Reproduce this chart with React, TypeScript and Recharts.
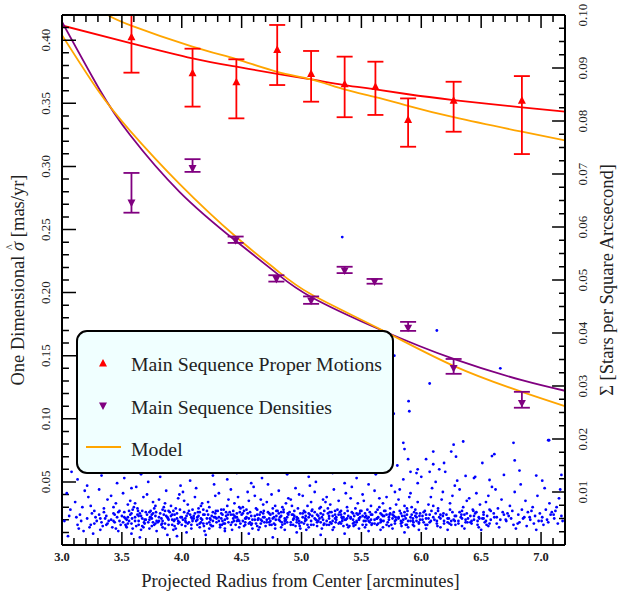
import React from "react";
import { ComposedChart, XAxis, YAxis, Line, Scatter, ErrorBar, Legend } from "recharts";

const SERIF = "'Liberation Serif', 'Times New Roman', serif";
const INK = "#222";

// axis ticks
const xTicks = [3.0, 3.1, 3.2, 3.3, 3.4, 3.5, 3.6, 3.7, 3.8, 3.9, 4.0, 4.1, 4.2, 4.3, 4.4, 4.5, 4.6, 4.7, 4.8, 4.9, 5.0, 5.1, 5.2, 5.3, 5.4, 5.5, 5.6, 5.7, 5.8, 5.9, 6.0, 6.1, 6.2, 6.3, 6.4, 6.5, 6.6, 6.7, 6.8, 6.9, 7.0, 7.1, 7.2];
const xLabels = [3.0, 3.5, 4.0, 4.5, 5.0, 5.5, 6.0, 6.5, 7.0];
const sigmaTicks = [0, 0.01, 0.02, 0.03, 0.04, 0.05, 0.06, 0.07, 0.08, 0.09, 0.1, 0.11, 0.12, 0.13, 0.14, 0.15, 0.16, 0.17, 0.18, 0.19, 0.2, 0.21, 0.22, 0.23, 0.24, 0.25, 0.26, 0.27, 0.28, 0.29, 0.3, 0.31, 0.32, 0.33, 0.34, 0.35, 0.36, 0.37, 0.38, 0.39, 0.4, 0.41, 0.42];
const sigmaLabels = [0.05, 0.1, 0.15, 0.2, 0.25, 0.3, 0.35, 0.4];
const densTicks = [0, 0.0025, 0.005, 0.0075, 0.01, 0.0125, 0.015, 0.0175, 0.02, 0.0225, 0.025, 0.0275, 0.03, 0.0325, 0.035, 0.0375, 0.04, 0.0425, 0.045, 0.0475, 0.05, 0.0525, 0.055, 0.0575, 0.06, 0.0625, 0.065, 0.0675, 0.07, 0.0725, 0.075, 0.0775, 0.08, 0.0825, 0.085, 0.0875, 0.09, 0.0925, 0.095, 0.0975, 0.1];
const densLabels = [0.01, 0.02, 0.03, 0.04, 0.05, 0.06, 0.07, 0.08, 0.09, 0.1];

// main sequence proper motion dispersion (mas/yr), errors [down, up]
const pmRadius = [3.58, 4.09, 4.456, 4.797, 5.08, 5.36, 5.617, 5.89, 6.27, 6.84];
const pmSigma = [0.4028, 0.3743, 0.3671, 0.3928, 0.3738, 0.3656, 0.3635, 0.3373, 0.3526, 0.3526];
const pmErrLow = [0.0285, 0.0269, 0.029, 0.0283, 0.0225, 0.0266, 0.0227, 0.0217, 0.0251, 0.0428];
const pmErrHigh = [0.0172, 0.019, 0.0178, 0.0193, 0.0177, 0.0214, 0.0195, 0.0166, 0.0145, 0.019];

// main sequence densities (stars / arcsec^2), errors [down, up]
const densRadius = [3.58, 4.09, 4.45, 4.79, 5.08, 5.36, 5.61, 5.89, 6.27, 6.84];
const densValue = [0.0645, 0.071, 0.0574, 0.0501, 0.046, 0.0517, 0.0496, 0.0409, 0.0333, 0.0267];
const densErrLow = [0.0018, 0.0006, 0.0004, 0.0004, 0.0005, 0.0004, 0.0003, 0.0005, 0.001, 0.0008];
const densErrHigh = [0.0057, 0.0018, 0.0008, 0.0008, 0.0009, 0.0008, 0.0006, 0.0012, 0.0018, 0.0022];

// fitted curves
const pmFitR = [3.0, 3.58, 4.09, 4.456, 4.797, 5.081, 5.358, 5.617, 5.89, 6.27, 6.84, 7.2];
const pmFitV = [0.4117, 0.3976, 0.3857, 0.379, 0.3733, 0.3689, 0.3645, 0.3611, 0.3572, 0.3526, 0.3468, 0.3434];
const pmModelR = [3.383, 3.567, 4.089, 4.456, 4.797, 5.081, 5.358, 5.617, 5.89, 6.27, 6.84, 7.2];
const pmModelV = [0.42, 0.412, 0.395, 0.385, 0.375, 0.369, 0.361, 0.355, 0.348, 0.339, 0.3275, 0.3206];
const densFitR = [3.0, 3.317, 3.567, 3.983, 4.45, 4.79, 5.08, 5.65, 6.27, 6.84, 7.2];
const densFitV = [0.0987, 0.0858, 0.0774, 0.0666, 0.0574, 0.0513, 0.0468, 0.0407, 0.0351, 0.0311, 0.0291];
const densModelR = [3.0, 3.3, 3.567, 3.983, 4.45, 4.79, 5.08, 5.65, 6.27, 6.84, 7.2];
const densModelV = [0.0962, 0.0858, 0.0782, 0.0681, 0.0582, 0.0519, 0.0473, 0.0408, 0.0338, 0.0289, 0.0262];

// individual stars [radius, sigma]
const stars: [number, number][] = [
  [3.02,.019],[3.05,.007],[3.07,.028],[3.04,.041],[3.08,.058],[3.06,.023],
  [3.11,.034],[3.13,.016],[3.15,.024],[3.12,.022],[3.17,.030],[3.14,.013],[3.19,.043],[3.16,.019],[3.18,.011],[3.13,.052],
  [3.21,.021],[3.23,.014],[3.22,.038],[3.25,.025],[3.27,.017],[3.24,.031],[3.28,.022],[3.26,.009],[3.29,.019],[3.21,.047],[3.27,.027],[3.24,.016],
  [3.31,.024],[3.33,.018],[3.35,.029],[3.32,.012],[3.36,.021],[3.38,.036],[3.34,.015],[3.37,.023],[3.39,.019],[3.31,.044],[3.35,.026],[3.38,.017],[3.33,.055],
  [3.41,.020],[3.43,.025],[3.42,.014],[3.45,.033],[3.44,.018],[3.46,.022],[3.48,.027],[3.47,.011],[3.49,.016],[3.41,.039],[3.44,.024],[3.46,.049],[3.48,.019],[3.43,.030],[3.45,.013],
  [3.51,.018],[3.52,.026],[3.53,.021],[3.54,.014],[3.55,.032],[3.56,.019],[3.57,.024],[3.58,.009],[3.59,.028],[3.51,.041],[3.53,.016],[3.55,.022],[3.57,.035],[3.59,.013],[3.52,.053],[3.54,.020],[3.56,.027],[3.58,.017],[3.50,.023],[3.58,.045],
  [3.61,.022],[3.62,.015],[3.63,.029],[3.64,.019],[3.65,.025],[3.66,.012],[3.67,.021],[3.68,.038],[3.69,.017],[3.61,.033],[3.63,.024],[3.65,.006],[3.67,.027],[3.69,.020],[3.62,.046],[3.64,.016],[3.66,.023],[3.68,.014],[3.60,.030],[3.66,.056],
  [3.71,.024],[3.72,.018],[3.73,.013],[3.74,.027],[3.75,.021],[3.76,.034],[3.77,.016],[3.78,.023],[3.79,.019],[3.71,.040],[3.73,.026],[3.75,.015],[3.77,.029],[3.79,.011],[3.72,.050],[3.74,.022],[3.76,.018],[3.78,.031],[3.70,.020],[3.76,.025],
  [3.81,.019],[3.82,.025],[3.83,.021],[3.84,.014],[3.85,.030],[3.86,.017],[3.87,.023],[3.88,.008],[3.89,.027],[3.81,.036],[3.83,.016],[3.85,.024],[3.87,.043],[3.89,.020],[3.82,.054],[3.84,.028],[3.86,.013],[3.88,.022],[3.80,.018],[3.86,.033],
  [3.91,.023],[3.92,.016],[3.93,.027],[3.94,.020],[3.95,.013],[3.96,.025],[3.97,.037],[3.98,.018],[3.99,.022],[3.91,.031],[3.93,.012],[3.95,.029],[3.97,.019],[3.99,.047],[3.92,.024],[3.94,.015],[3.96,.021],[3.98,.040],[3.90,.026],[3.96,.007],
  [4.01,.020],[4.02,.026],[4.03,.015],[4.04,.023],[4.05,.032],[4.06,.018],[4.07,.024],[4.08,.013],[4.09,.028],[4.01,.042],[4.03,.021],[4.05,.017],[4.07,.051],[4.09,.019],[4.02,.035],[4.04,.010],[4.06,.027],[4.08,.022],[4.00,.016],[4.06,.058],
  [4.11,.025],[4.12,.019],[4.13,.022],[4.14,.029],[4.15,.014],[4.16,.021],[4.17,.033],[4.18,.017],[4.19,.024],[4.11,.038],[4.13,.016],[4.15,.026],[4.17,.020],[4.19,.011],[4.12,.045],[4.14,.023],[4.16,.018],[4.18,.028],[4.10,.021],[4.16,.031],
  [4.21,.017],[4.22,.024],[4.23,.030],[4.24,.020],[4.25,.015],[4.26,.026],[4.27,.022],[4.28,.039],[4.29,.018],[4.21,.027],[4.23,.013],[4.25,.023],[4.27,.048],[4.29,.021],[4.22,.034],[4.24,.016],[4.26,.019],[4.28,.025],[4.20,.008],[4.26,.055],
  [4.31,.022],[4.32,.016],[4.33,.025],[4.34,.019],[4.35,.028],[4.36,.013],[4.37,.023],[4.38,.031],[4.39,.018],[4.31,.041],[4.33,.021],[4.35,.017],[4.37,.026],[4.39,.036],[4.32,.014],[4.34,.024],[4.36,.020],[4.38,.052],[4.30,.027],[4.36,.011],
  [4.41,.024],[4.42,.018],[4.43,.021],[4.44,.033],[4.45,.016],[4.46,.025],[4.47,.020],[4.48,.014],[4.49,.029],[4.41,.044],[4.43,.027],[4.45,.022],[4.47,.038],[4.49,.017],[4.42,.012],[4.44,.023],[4.46,.019],[4.48,.030],[4.40,.026],[4.46,.057],
  [4.51,.019],[4.52,.027],[4.53,.016],[4.54,.022],[4.55,.025],[4.56,.035],[4.57,.018],[4.58,.023],[4.59,.013],[4.51,.030],[4.53,.021],[4.55,.042],[4.57,.026],[4.59,.020],[4.52,.015],[4.54,.028],[4.56,.009],[4.58,.049],[4.50,.024],[4.56,.017],
  [4.61,.023],[4.62,.017],[4.63,.028],[4.64,.021],[4.65,.014],[4.66,.026],[4.67,.019],[4.68,.032],[4.69,.022],[4.61,.039],[4.63,.015],[4.65,.024],[4.67,.053],[4.69,.018],[4.62,.029],[4.64,.012],[4.66,.020],[4.68,.025],[4.60,.046],[4.66,.036],
  [4.71,.020],[4.72,.026],[4.73,.018],[4.74,.024],[4.75,.016],[4.76,.029],[4.77,.022],[4.78,.013],[4.79,.027],[4.71,.034],[4.73,.021],[4.75,.040],[4.77,.017],[4.79,.023],[4.72,.048],[4.74,.019],[4.76,.025],[4.78,.031],[4.70,.015],[4.76,.006],
  [4.81,.025],[4.82,.019],[4.83,.023],[4.84,.016],[4.85,.028],[4.86,.021],[4.87,.033],[4.88,.018],[4.89,.024],[4.81,.043],[4.83,.014],[4.85,.026],[4.87,.020],[4.89,.037],[4.82,.022],[4.84,.030],[4.86,.012],[4.88,.056],[4.80,.027],[4.86,.017],
  [4.91,.018],[4.92,.024],[4.93,.020],[4.94,.027],[4.95,.015],[4.96,.022],[4.97,.029],[4.98,.019],[4.99,.025],[4.91,.036],[4.93,.016],[4.95,.045],[4.97,.021],[4.99,.013],[4.92,.031],[4.94,.023],[4.96,.018],[4.98,.040],[4.90,.026],[4.96,.010],
  [5.01,.022],[5.02,.017],[5.03,.026],[5.04,.020],[5.05,.031],[5.06,.014],[5.07,.024],[5.08,.019],[5.09,.028],[5.01,.039],[5.03,.021],[5.05,.016],[5.07,.047],[5.09,.023],[5.02,.027],[5.04,.012],[5.06,.025],[5.08,.034],[5.00,.018],[5.06,.054],
  [5.11,.026],[5.12,.020],[5.13,.015],[5.14,.023],[5.15,.029],[5.16,.018],[5.17,.022],[5.18,.036],[5.19,.017],[5.11,.042],[5.13,.024],[5.15,.021],[5.17,.013],[5.19,.027],[5.12,.050],[5.14,.019],[5.16,.030],[5.18,.024],[5.10,.016],[5.16,.008],
  [5.21,.019],[5.22,.025],[5.23,.021],[5.24,.032],[5.25,.017],[5.26,.023],[5.27,.014],[5.28,.027],[5.29,.020],[5.21,.038],[5.23,.016],[5.25,.026],[5.27,.044],[5.29,.022],[5.22,.029],[5.24,.018],[5.26,.012],[5.28,.024],[5.20,.034],[5.26,.057],
  [5.31,.024],[5.32,.018],[5.33,.027],[5.34,.021],[5.35,.015],[5.36,.025],[5.37,.020],[5.38,.030],[5.39,.023],[5.31,.035],[5.33,.017],[5.35,.022],[5.37,.041],[5.39,.014],[5.32,.026],[5.34,.019],[5.36,.049],[5.38,.021],[5.30,.028],[5.36,.009],
  [5.41,.021],[5.42,.026],[5.43,.017],[5.44,.023],[5.45,.029],[5.46,.019],[5.47,.024],[5.48,.013],[5.49,.022],[5.41,.037],[5.43,.020],[5.45,.016],[5.47,.033],[5.49,.027],[5.42,.046],[5.44,.018],[5.46,.025],[5.48,.021],[5.40,.015],[5.46,.053],
  [5.51,.023],[5.52,.019],[5.53,.025],[5.54,.016],[5.55,.028],[5.56,.022],[5.57,.018],[5.58,.031],[5.59,.024],[5.51,.040],[5.53,.014],[5.55,.021],[5.57,.026],[5.59,.017],[5.52,.035],[5.54,.023],[5.56,.011],[5.58,.020],[5.50,.027],[5.56,.048],
  [5.61,.020],[5.62,.026],[5.63,.016],[5.64,.022],[5.65,.030],[5.66,.018],[5.67,.024],[5.68,.014],[5.69,.027],[5.61,.043],[5.63,.021],[5.65,.037],[5.67,.019],[5.69,.023],[5.62,.056],[5.64,.017],[5.66,.025],[5.68,.033],[5.60,.062],[5.66,.012],
  [5.71,.024],[5.72,.018],[5.73,.022],[5.74,.029],[5.75,.016],[5.76,.021],[5.77,.026],[5.78,.019],[5.79,.032],[5.71,.038],[5.73,.015],[5.75,.047],[5.77,.023],[5.79,.020],[5.72,.059],[5.74,.025],[5.76,.013],[5.78,.042],[5.70,.027],[5.76,.066],
  [5.81,.022],[5.82,.027],[5.83,.017],[5.84,.023],[5.85,.020],[5.86,.031],[5.87,.016],[5.88,.024],[5.89,.019],[5.81,.036],[5.83,.025],[5.85,.052],[5.87,.021],[5.89,.014],[5.82,.044],[5.84,.018],[5.86,.026],[5.88,.029],[5.80,.063],[5.86,.010],
  [5.91,.019],[5.92,.024],[5.93,.021],[5.94,.015],[5.95,.028],[5.96,.022],[5.97,.034],[5.98,.018],[5.99,.025],[5.91,.041],[5.93,.016],[5.95,.023],[5.97,.049],[5.99,.020],[5.92,.030],[5.94,.026],[5.96,.057],[5.98,.012],[5.90,.038],[5.96,.019],
  [6.01,.023],[6.02,.018],[6.03,.027],[6.04,.021],[6.05,.016],[6.06,.032],[6.07,.024],[6.08,.019],[6.09,.045],[6.02,.026],[6.04,.013],[6.06,.021],[6.08,.038],[6.00,.054],
  [6.11,.020],[6.12,.025],[6.13,.017],[6.14,.029],[6.15,.022],[6.16,.014],[6.17,.036],[6.18,.023],[6.19,.019],[6.12,.050],[6.14,.027],[6.16,.021],[6.18,.042],[6.10,.031],
  [6.21,.024],[6.22,.018],[6.23,.021],[6.24,.033],[6.25,.016],[6.26,.026],[6.27,.020],[6.28,.047],[6.29,.023],[6.22,.012],[6.24,.028],[6.26,.039],[6.28,.019],[6.20,.058],
  [6.31,.019],[6.32,.026],[6.33,.022],[6.34,.015],[6.35,.030],[6.36,.024],[6.37,.018],[6.38,.035],[6.39,.021],[6.32,.044],[6.34,.027],[6.36,.013],[6.38,.025],[6.30,.051],
  [6.41,.023],[6.42,.017],[6.43,.028],[6.44,.020],[6.45,.025],[6.46,.041],[6.47,.016],[6.48,.022],[6.49,.032],[6.42,.019],[6.44,.053],[6.46,.026],[6.48,.014],[6.40,.037],
  [6.51,.021],[6.52,.026],[6.53,.018],[6.54,.034],[6.55,.023],[6.56,.015],[6.57,.028],[6.58,.020],[6.59,.046],[6.52,.024],[6.54,.019],[6.56,.039],[6.58,.027],[6.50,.012],
  [6.61,.022],[6.63,.017],[6.64,.029],[6.66,.020],[6.67,.036],[6.69,.024],[6.62,.044],[6.65,.014],[6.68,.026],
  [6.71,.019],[6.72,.025],[6.74,.031],[6.75,.021],[6.77,.016],[6.78,.042],[6.73,.023],[6.76,.027],[6.79,.013],
  [6.81,.024],[6.82,.018],[6.84,.028],[6.85,.021],[6.87,.035],[6.88,.015],[6.83,.048],[6.86,.022],[6.89,.026],
  [6.91,.020],[6.92,.027],[6.94,.017],[6.95,.023],[6.97,.039],[6.98,.019],[6.93,.030],[6.96,.012],[6.99,.025],
  [7.01,.022],[7.02,.016],[7.04,.028],[7.05,.020],[7.07,.033],[7.08,.024],[7.03,.045],[7.06,.018],[7.09,.026],
  [7.11,.021],[7.12,.027],[7.14,.017],[7.15,.037],[7.17,.023],[7.13,.030],[7.16,.044],[7.18,.019],
  // dense core of the band
  [3.32,.021],[3.37,.016],[3.43,.019],[3.47,.026],[3.52,.022],[3.55,.017],[3.58,.025],[3.61,.019],[3.64,.023],[3.67,.015],
  [3.70,.026],[3.73,.020],[3.75,.024],[3.78,.017],[3.81,.022],[3.84,.019],[3.86,.027],[3.89,.016],[3.92,.020],[3.94,.024],
  [3.97,.017],[4.00,.022],[4.03,.019],[4.05,.025],[4.08,.016],[4.10,.023],[4.13,.020],[4.15,.017],[4.18,.024],[4.21,.021],
  [4.23,.018],[4.26,.015],[4.28,.022],[4.31,.019],[4.33,.028],[4.36,.017],[4.38,.021],[4.41,.016],[4.43,.024],[4.46,.022],
  [4.48,.019],[4.51,.025],[4.53,.018],[4.56,.021],[4.58,.016],[4.61,.020],[4.63,.024],[4.66,.017],[4.68,.022],[4.71,.018],
  [4.73,.025],[4.76,.021],[4.78,.016],[4.81,.020],[4.83,.026],[4.86,.019],[4.88,.022],[4.91,.016],[4.93,.024],[4.96,.020],
  [4.98,.017],[5.01,.025],[5.03,.019],[5.06,.022],[5.08,.016],[5.11,.021],[5.13,.018],[5.16,.025],[5.18,.020],[5.21,.016],
  [5.23,.023],[5.26,.019],[5.28,.021],[5.31,.017],[5.33,.024],[5.36,.020],[5.38,.016],[5.41,.022],[5.43,.025],[5.46,.018],
  [5.48,.020],[5.51,.016],[5.53,.022],[5.56,.019],[5.58,.024],[5.61,.017],[5.63,.021],[5.66,.020],[5.68,.023],[5.71,.016],
  [5.73,.020],[5.76,.024],[5.78,.017],[5.81,.021],[5.83,.019],[5.86,.023],[5.88,.016],[5.91,.022],[5.93,.019],[5.96,.025],
  [5.98,.017],[6.01,.020],[6.04,.024],[6.07,.018],[6.10,.022],[6.13,.019],[6.16,.024],[6.19,.017],[6.22,.021],[6.25,.019],
  [6.28,.023],[6.31,.017],[6.34,.021],[6.37,.020],[6.41,.018],[6.44,.023],[6.47,.019],[6.52,.021],[6.57,.017],[6.63,.022],
  [3.535,.015],[3.585,.021],[3.635,.027],[3.685,.018],[3.735,.022],[3.785,.026],[3.835,.017],[3.885,.021],[3.935,.019],[3.985,.028],
  [4.035,.018],[4.085,.021],[4.135,.026],[4.185,.015],[4.235,.021],[4.285,.027],[4.335,.016],[4.385,.024],[4.435,.019],[4.485,.026],
  [4.535,.021],[4.585,.017],[4.635,.020],[4.685,.027],[4.735,.016],[4.785,.020],[4.835,.018],[4.885,.025],[4.935,.021],[4.985,.015],
  [5.035,.023],[5.085,.027],[5.135,.019],[5.185,.016],[5.235,.026],[5.285,.018],[5.335,.022],[5.385,.027],[5.435,.015],[5.485,.025],
  [5.535,.019],[5.585,.016],[5.635,.028],[5.685,.019],[5.735,.024],[5.785,.022],[5.835,.015],[5.885,.027],[5.935,.018],[5.985,.023],
  [6.035,.016],[6.085,.027],[6.135,.015],[6.185,.025],[6.235,.017],[6.285,.016],[6.335,.024],[6.385,.018],[6.435,.027],[6.485,.021],
  [6.545,.016],[6.605,.025],[6.705,.020],[6.805,.017],[6.905,.022],[7.005,.019],[7.105,.024],
  // sparse stars above the band
  [5.34,.244],[6.13,.170],[5.775,.150],[6.66,.140],[6.07,.128],[5.894,.114],[5.9,.106],[5.77,.104],[7.067,.083],[5.85,.081],
  [6.27,.0795],[6.35,.082],[6.77,.081],[7.06,.083],[5.86,.076],[6.1,.074],[6.25,.074],[6.04,.068],[6.29,.070],[6.59,.0705],
  [6.61,.072],[6.78,.067],[5.89,.068],[6.19,.065],[6.1,.064],[6.51,.065],[6.82,.059],[6.96,.055],[7.17,.0555],[5.97,.060],
  [5.91,.058],[6.07,.058],[6.15,.060],[6.45,.054],[6.57,.0515],[6.69,.0555],[7.01,.051],[6.37,.0547],
];

const legendItems = [
  { label: "Main Sequence Proper Motions", color: "#ff0000", kind: "up" },
  { label: "Main Sequence Densities", color: "#800080", kind: "down" },
  { label: "Model", color: "#ffa500", kind: "line" },
];

const near = (list: number[], v: number) => list.some((t) => Math.abs(t - v) < 1e-9);

const pmData = pmRadius.map((r, i) => ({ r, v: pmSigma[i], err: [pmErrLow[i], pmErrHigh[i]] }));
const densData = densRadius.map((r, i) => ({ r, v: densValue[i], err: [densErrLow[i], densErrHigh[i]] }));
const pmFit = pmFitR.map((r, i) => ({ r, v: pmFitV[i] }));
const pmModel = pmModelR.map((r, i) => ({ r, v: pmModelV[i] }));
const densFit = densFitR.map((r, i) => ({ r, v: densFitV[i] }));
const densModel = densModelR.map((r, i) => ({ r, v: densModelV[i] }));
const starData = stars.map(([r, v]) => ({ r, v }));

// inward tick marks: one zig-zag polyline per frame edge, spiking in at each tick
// (spike lengths: 13px / 7px on x edges, 14px / 7px left, 13px / 6px right)
const bottomMarks = xTicks.flatMap((r) => {
  const h = near(xLabels, r) ? 0.0103 : 0.0056;
  return [{ r, v: 0 }, { r, v: h }, { r, v: 0 }];
});
const topMarks = xTicks.flatMap((r) => {
  const h = near(xLabels, r) ? 0.0103 : 0.0056;
  return [{ r, v: 0.42 }, { r, v: 0.42 - h }, { r, v: 0.42 }];
});
const leftMarks = sigmaTicks.flatMap((v) => {
  const w = near(sigmaLabels, v) ? 0.117 : 0.058;
  return [{ r: 3.0, v }, { r: 3.0 + w, v }, { r: 3.0, v }];
});
const rightMarks = densTicks.flatMap((v) => {
  const w = near(densLabels, v) ? 0.108 : 0.05;
  return [{ r: 7.2, v }, { r: 7.2 - w, v }, { r: 7.2, v }];
});

function BottomLabel(props: any) {
  if (!near(xLabels, props.payload.value)) return <g />;
  return (
    <text x={props.x} y={Number(props.y) + 16} textAnchor="middle" fontFamily={SERIF} fontSize={12.5} fontWeight="bold" fill={INK}>
      {props.payload.value.toFixed(1)}
    </text>
  );
}

function SideLabel(labels: number[], dx: number) {
  return (props: any) => {
    if (!near(labels, props.payload.value)) return <g />;
    const lx = Number(props.x) + dx;
    const y = Number(props.y);
    return (
      <text x={lx} y={y} transform={`rotate(-90 ${lx} ${y})`} textAnchor="middle" dominantBaseline="central" fontFamily={SERIF} fontSize={13} fill={INK}>
        {props.payload.value.toFixed(2)}
      </text>
    );
  };
}
const LeftLabel = SideLabel(sigmaLabels, -16);
const RightLabel = SideLabel(densLabels, 17);

const upPath = (cx: number, cy: number, s: number) => `M${cx},${cy - s}L${cx + s},${cy + s * 0.9}L${cx - s},${cy + s * 0.9}Z`;
const downPath = (cx: number, cy: number, s: number) => `M${cx},${cy + s}L${cx + s},${cy - s * 0.9}L${cx - s},${cy - s * 0.9}Z`;

const UpMarker = (p: any) => <path d={upPath(p.cx, p.cy, 4)} fill="#ff0000" />;
const DownMarker = (p: any) => <path d={downPath(p.cx, p.cy, 4)} fill="#800080" />;
const StarDot = (p: any) => <circle cx={p.cx} cy={p.cy} r={1.4} fill="#0000ff" />;

function LegendBox() {
  const rows = [41, 84, 126];
  return (
    <svg width={318} height={144}>
      <rect x={1} y={1} width={316} height={142} rx={10} fill="#f0ffff" stroke="#000" strokeWidth={2} />
      {legendItems.map((it, i) => (
        <g key={it.label}>
          {it.kind === "up" && <path d={upPath(27, rows[i] - 8, 4)} fill={it.color} />}
          {it.kind === "down" && <path d={downPath(27, rows[i] - 8, 4)} fill={it.color} />}
          {it.kind === "line" && <line x1={10} x2={45} y1={rows[i] - 9} y2={rows[i] - 9} stroke={it.color} strokeWidth={2} />}
          <text x={55} y={rows[i]} fontFamily={SERIF} fontSize={19.8} fill={INK}>
            {it.label}
          </text>
        </g>
      ))}
    </svg>
  );
}

const XTitle = ({ viewBox }: any) => (
  <text x={viewBox.x + viewBox.width / 2 - 13} y={viewBox.y + 42} textAnchor="middle" fontFamily={SERIF} fontSize={18.5} fill={INK}>
    Projected Radius from Center [arcminutes]
  </text>
);

const LeftTitle = ({ viewBox }: any) => {
  const cx = 18;
  const cy = viewBox.y + viewBox.height / 2;
  return (
    <text x={cx} y={cy} transform={`rotate(-90 ${cx} ${cy})`} textAnchor="middle" dominantBaseline="central" fontFamily={SERIF} fontSize={18.5} fill={INK}>
      One Dimensional <tspan fontStyle="italic">σ</tspan>
      <tspan dx={-8.2} dy={-8} fontSize={12}>^</tspan>
      <tspan dx={2.6} dy={8}> [mas/yr]</tspan>
    </text>
  );
};

const RightTitle = ({ viewBox }: any) => {
  const cx = 607;
  const cy = viewBox.y + viewBox.height / 2;
  return (
    <text x={cx} y={cy} transform={`rotate(-90 ${cx} ${cy})`} textAnchor="middle" dominantBaseline="central" fontFamily={SERIF} fontSize={18.5} fill={INK}>
      Σ [Stars per Square Arcsecond]
    </text>
  );
};

const spine = { stroke: "#000", strokeWidth: 2 };
const xDomain: [number, number] = [3.0, 7.2];
const sigmaDomain: [number, number] = [0, 0.42];
const densDomain: [number, number] = [0, 0.1];

export default function App() {
  return (
    <div style={{ position: "absolute", left: 0, top: 0, background: "#fff" }}>
      <ComposedChart width={619} height={599} margin={{ top: 14, right: 0, bottom: 0, left: 0 }}>
        <XAxis
          dataKey="r"
          type="number"
          domain={xDomain}
          ticks={xLabels}
          interval={0}
          height={54}
          tickSize={0}
          tickMargin={0}
          tickLine={false}
          axisLine={spine}
          tick={BottomLabel}
          allowDataOverflow
          label={XTitle}
        />
        <XAxis
          xAxisId="top"
          orientation="top"
          dataKey="r"
          type="number"
          domain={xDomain}
          height={1}
          tick={false}
          tickLine={false}
          axisLine={spine}
          allowDataOverflow
        />
        <YAxis
          yAxisId="left"
          dataKey="v"
          type="number"
          domain={sigmaDomain}
          ticks={sigmaLabels}
          interval={0}
          width={62}
          tickSize={0}
          tickMargin={0}
          tickLine={false}
          axisLine={spine}
          tick={LeftLabel}
          allowDataOverflow
          label={LeftTitle}
        />
        <YAxis
          yAxisId="right"
          orientation="right"
          dataKey="v"
          type="number"
          domain={densDomain}
          ticks={densLabels}
          interval={0}
          width={54}
          tickSize={0}
          tickMargin={0}
          tickLine={false}
          axisLine={spine}
          tick={RightLabel}
          allowDataOverflow
          label={RightTitle}
        />
        <Scatter yAxisId="left" data={starData} shape={StarDot} isAnimationActive={false} />
        <Line yAxisId="left" data={pmFit} dataKey="v" type="natural" stroke="#ff0000" strokeWidth={1.8} dot={false} isAnimationActive={false} />
        <Line yAxisId="left" data={pmModel} dataKey="v" type="natural" stroke="#ffa500" strokeWidth={1.8} dot={false} isAnimationActive={false} />
        <Line yAxisId="right" data={densFit} dataKey="v" type="natural" stroke="#800080" strokeWidth={1.8} dot={false} isAnimationActive={false} />
        <Line yAxisId="right" data={densModel} dataKey="v" type="natural" stroke="#ffa500" strokeWidth={1.8} dot={false} isAnimationActive={false} />
        <Scatter yAxisId="left" data={pmData} shape={UpMarker} isAnimationActive={false}>
          <ErrorBar dataKey="err" direction="y" width={8} stroke="#ff0000" strokeWidth={1.8} />
        </Scatter>
        <Scatter yAxisId="right" data={densData} shape={DownMarker} isAnimationActive={false}>
          <ErrorBar dataKey="err" direction="y" width={8} stroke="#800080" strokeWidth={1.8} />
        </Scatter>
        <Line yAxisId="left" data={bottomMarks} dataKey="v" type="linear" stroke="#000" strokeWidth={1.5} dot={false} isAnimationActive={false} />
        <Line yAxisId="left" data={topMarks} dataKey="v" type="linear" stroke="#000" strokeWidth={1.5} dot={false} isAnimationActive={false} />
        <Line yAxisId="left" data={leftMarks} dataKey="v" type="linear" stroke="#000" strokeWidth={1.5} dot={false} isAnimationActive={false} />
        <Line yAxisId="right" data={rightMarks} dataKey="v" type="linear" stroke="#000" strokeWidth={1.5} dot={false} isAnimationActive={false} />
        <Legend
          layout="vertical"
          align="center"
          verticalAlign="middle"
          wrapperStyle={{ left: 76, top: 330, width: 318, height: 144 }}
          content={() => <LegendBox />}
        />
      </ComposedChart>
    </div>
  );
}
